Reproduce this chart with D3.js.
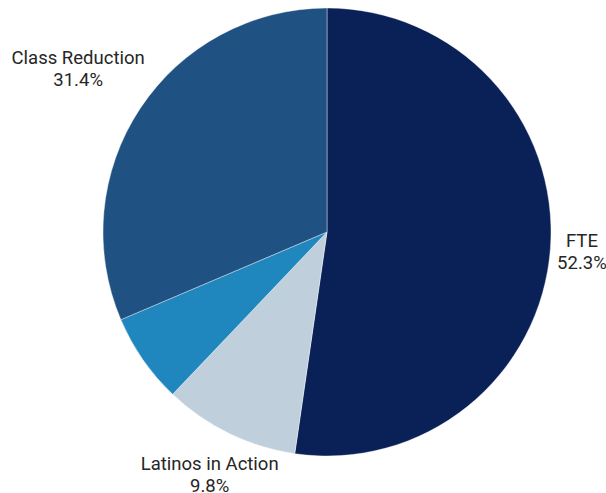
<!DOCTYPE html>
<html>
<head>
<meta charset="utf-8">
<script src="https://cdn.jsdelivr.net/npm/d3@7/dist/d3.min.js"></script>
<style>
  html, body { margin: 0; padding: 0; background: #ffffff; }
  svg { display: block; }
</style>
</head>
<body>
<svg id="chart" width="606" height="493"></svg>
<script>
// Data
const categories = ["FTE", "Latinos in Action", "Other", "Class Reduction"];
const values = [52.3, 9.8, 6.5, 31.4];
const showLabel = [true, true, false, true];
const colors = ["#0a2157", "#bfd0dc", "#1f86be", "#1f5283"];

// Layout
const W = 606, H = 493;
const cx = 327, cy = 232, r = 224;
const labelDist = { "FTE": 1.141, "Latinos in Action": 1.198, "Class Reduction": 1.332 };

const svg = d3.select("#chart");
const g = svg.append("g").attr("transform", `translate(${cx},${cy})`);

const data = categories.map((c, i) => ({ name: c, value: values[i], color: colors[i], label: showLabel[i] }));
const total = d3.sum(values);

const pie = d3.pie().sort(null).value(d => d.value);
const arcs = pie(data);
const arc = d3.arc().innerRadius(0).outerRadius(r);

g.selectAll("path.slice")
  .data(arcs)
  .join("path")
  .attr("class", "slice")
  .attr("d", arc)
  .attr("fill", d => d.data.color)
  .attr("stroke", "#ffffff")
  .attr("stroke-width", 0.4);

const fmt = v => (v / total * 100).toFixed(1) + "%";

const labels = g.selectAll("text.lbl")
  .data(arcs.filter(d => d.data.label))
  .join("text")
  .attr("class", "lbl")
  .attr("text-anchor", "middle")
  .attr("font-family", "Roboto, sans-serif")
  .attr("font-size", 18.5)
  .attr("fill", "#262626")
  .attr("transform", d => {
    const a = (d.startAngle + d.endAngle) / 2;
    const dist = r * labelDist[d.data.name];
    return `translate(${Math.sin(a) * dist},${-Math.cos(a) * dist})`;
  });

labels.append("tspan").attr("x", 0).attr("y", -3.5).text(d => d.data.name);
labels.append("tspan").attr("x", 0).attr("y", 18.5).text(d => fmt(d.data.value));
</script>
</body>
</html>
